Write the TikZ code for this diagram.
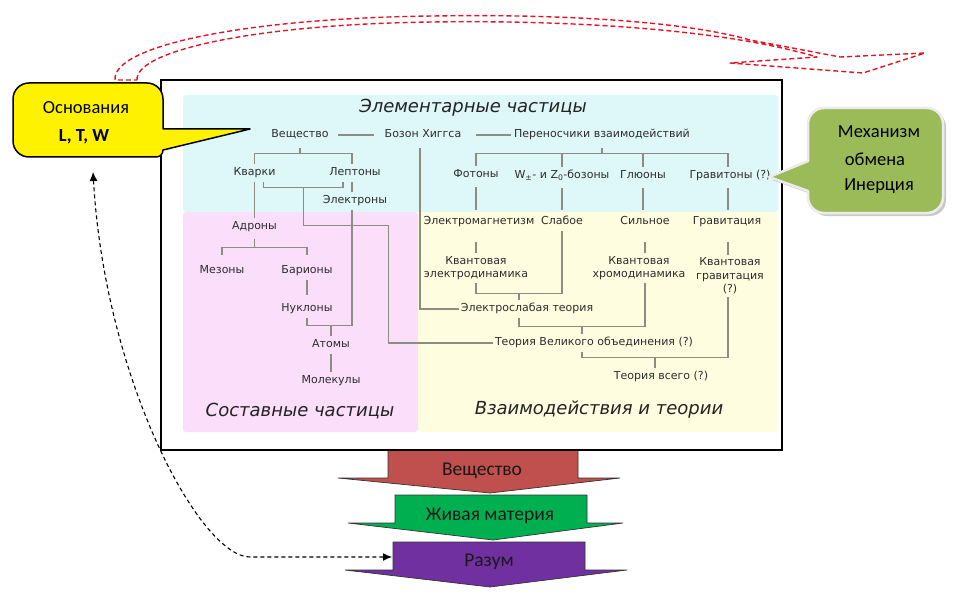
\documentclass[tikz,border=0pt]{standalone}
\usepackage{fontspec}
\setmainfont{DejaVu Sans}
\newfontfamily\carl{Carlito}
\usetikzlibrary{shadows,arrows.meta,calc}
\definecolor{cyanbg}{RGB}{222,248,250}
\definecolor{pinkbg}{RGB}{250,222,250}
\definecolor{yelbg}{RGB}{255,253,224}
\definecolor{linec}{RGB}{140,140,130}
\definecolor{labc}{RGB}{45,45,45}
\definecolor{ttlc}{RGB}{35,35,35}
\definecolor{callg}{RGB}{155,187,89}
\definecolor{arrred}{RGB}{192,80,77}
\definecolor{arrgreen}{RGB}{0,176,80}
\definecolor{arrpurp}{RGB}{112,48,160}
\definecolor{dashred}{RGB}{228,20,40}
\begin{document}
\begin{tikzpicture}[x=1pt,y=-1pt,
  lbl/.style={font=\fontsize{11}{13}\selectfont, text=labc, inner xsep=1.5pt, inner ysep=3pt, text height=8.5pt, text depth=2.6pt},
  lbltwo/.style={font=\fontsize{11}{13.5}\selectfont, text=labc, inner xsep=1.5pt, inner ysep=3pt, align=center},
  ttl/.style={font=\fontsize{18}{20}\selectfont\itshape, text=ttlc},
  tl/.style={draw=linec, line width=1.1pt},
  ctext/.style={font=\carl\fontsize{18.5}{20}\selectfont, text=black},
  btext/.style={font=\carl\fontsize{19.5}{21}\selectfont, text=black!90},
  bigarrow/.style={draw=black!80, line width=0.7pt}
]
\useasboundingbox (0,0) rectangle (961,607);
\fill[white] (0,0) rectangle (961,607);

% red dashed curved arrow
\draw[dashred, line width=1.4pt, dash pattern=on 5pt off 3pt, line join=round]
  (137,80) .. controls (135,50) and (260,24) .. (433,22)
  .. controls (560,20) and (720,28) .. (817,57)
  -- (730,63) -- (863,73) -- (925,53) -- (840,57) -- (750,40)
  .. controls (680,20) and (550,14) .. (433,16)
  .. controls (250,18) and (112,45) .. (115,80) -- cycle;

% frame interior and regions
\fill[white] (161,80) rectangle (782,450);
\fill[cyanbg, rounded corners=3pt] (183,95) rectangle (778,212);
\fill[pinkbg, rounded corners=3pt] (183,212) rectangle (418,432);
\fill[yelbg, rounded corners=3pt] (418,212) rectangle (778,432);

% titles
\node[ttl] (t1) at (473,108) {Элементарные частицы};
\node[ttl] (t2) at (300,411) {Составные частицы};
\node[ttl] (t3) at (599,410) {Взаимодействия и теории};

% labels
\node[lbl] (vesh) at (300,135) {Вещество};
\node[lbl] (higgs) at (423,135) {Бозон Хиггса};
\node[lbl] (pereno) at (602,135) {Переносчики взаимодействий};
\node[lbl] (kvarki) at (254.5,173) {Кварки};
\node[lbl] (lepton) at (355,173) {Лептоны};
\node[lbl] (elektr) at (355,201) {Электроны};
\node[lbl] (foton) at (476,175) {Фотоны};
\node[lbl] (wz) at (562,176) {W\textsubscript{±}- и Z\textsubscript{0}-бозоны};
\node[lbl] (glyuon) at (643,176) {Глюоны};
\node[lbl] (graviton) at (730,176) {Гравитоны (?)};
\node[lbl] (adron) at (254.5,227) {Адроны};
\node[lbl] (mezon) at (222,271) {Мезоны};
\node[lbl] (barion) at (307,271) {Барионы};
\node[lbl] (nuklon) at (307,309) {Нуклоны};
\node[lbl] (atom) at (331,345) {Атомы};
\node[lbl] (molek) at (331,381) {Молекулы};
\node[lbl] (emag) at (479,222) {Электромагнетизм};
\node[lbl] (slab) at (562,222) {Слабое};
\node[lbl] (silnoe) at (645,222) {Сильное};
\node[lbl] (gravitac) at (727,222) {Гравитация};
\node[lbltwo] (ked) at (476,268) {Квантовая\\электродинамика};
\node[lbltwo] (kxd) at (639,268) {Квантовая\\хромодинамика};
\node[lbltwo] (kgrav) at (730,276) {Квантовая\\гравитация\\(?)};
\node[lbl] (ew) at (527,309) {Электрослабая теория};
\node[lbl] (gut) at (594,343) {Теория Великого объединения (?)};
\node[lbl] (toe) at (661,377) {Теория всего (?)};

% tree connectors
\draw[tl, shorten <=8pt, shorten >=9pt] (vesh.east) -- (higgs.west);
\draw[tl, shorten <=13pt, shorten >=1pt] (higgs.east) -- (pereno.west);
\draw[tl] (kvarki.north) -- ++(0,-11) coordinate (vb) -| ([xshift=-3pt]lepton.north);
\draw[tl] ([yshift=-4pt]vesh.south) -- (vesh.south |- vb);
\draw[tl] (kvarki.south) -- (adron.north);
\draw[tl] ([xshift=9pt]kvarki.south) -- ++(0,6) coordinate (kb) -| ([xshift=-12pt]lepton.south);
\draw[tl] ([xshift=40pt]kb) -- ++(0,38) -- ++(85,0) |- (gut.west);
\draw[tl] ([xshift=-3pt]lepton.south) -- ([xshift=-3pt]lepton.south |- elektr.north);
\draw[tl] (nuklon.south) -- ++(0,8) coordinate (nb) -| ([xshift=-3pt]elektr.south);
\draw[tl] (atom.north) -- (atom.north |- nb);
\draw[tl] (atom.south) -- (molek.north);
\draw[tl] ([yshift=7pt]mezon.north) -- ++(0,-8) coordinate (ab) -| ([yshift=7pt]barion.north);
\draw[tl] ([yshift=-3pt]adron.south) -- (adron.south |- ab);
\draw[tl, shorten >=5pt] (barion.south) -- (barion.south |- nuklon.north);
\draw[tl] ([xshift=-3pt,yshift=-4pt]higgs.south) |- (ew.west);
\draw[tl] (foton.north) -- ++(0,-13) coordinate (pb) -| ([xshift=-2pt]graviton.north);
\draw[tl] (wz.north |- pb) -- (wz.north);
\draw[tl] (glyuon.north |- pb) -- (glyuon.north);
\draw[tl] ([yshift=-4pt]pereno.south) -- (pereno.south |- pb);
\draw[tl, shorten <=3pt, shorten >=3pt] (foton.south) -- (foton.south |- emag.north);
\draw[tl, shorten <=3pt, shorten >=3pt] (wz.south) -- (wz.south |- slab.north);
\draw[tl, shorten <=3pt, shorten >=3pt] (glyuon.south) -- (glyuon.south |- silnoe.north);
\draw[tl, shorten <=3pt, shorten >=3pt] ([xshift=-2pt]graviton.south) -- ([xshift=-2pt]graviton.south |- gravitac.north);
\draw[tl, shorten <=11pt] (foton.south |- emag.south) -- (foton.south |- ked.north);
\draw[tl, shorten <=11pt] (silnoe.south) -- (silnoe.south |- kxd.north);
\draw[tl, shorten <=11pt] ([xshift=1pt]gravitac.south) -- ([xshift=1pt]gravitac.south |- kgrav.north);
\draw[tl] (foton.south |- ked.south) -- ++(0,10) coordinate (eb) -| (slab.south);
\draw[tl] ([xshift=-8pt]ew.north |- eb) -- ([xshift=-8pt]ew.north);
\draw[tl] ([xshift=-8pt]ew.south) -- ++(0,9) coordinate (gb) -| (silnoe.south |- kxd.south);
\draw[tl] ([xshift=-12pt]gut.north |- gb) -- ([xshift=-12pt]gut.north);
\draw[tl] ([xshift=-12pt]gut.south) -- ++(0,6) coordinate (tb) -| ([xshift=-2pt]kgrav.south);
\draw[tl] ([xshift=-6pt]toe.north |- tb) -- ([xshift=-6pt]toe.north);

% bottom block arrows
\draw[bigarrow, fill=arrred] (388,450) -- (578,450) -- (578,478) -- (620,478) -- (490,493) -- (338,478) -- (388,478) -- cycle;
\draw[bigarrow, fill=arrgreen] (395,495) -- (587,495) -- (587,523) -- (623,523) -- (493,540) -- (348,523) -- (395,523) -- cycle;
\draw[bigarrow, fill=arrpurp] (393,542) -- (585,542) -- (585,570) -- (627,570) -- (490,587) -- (345,570) -- (393,570) -- cycle;
\node[btext] (bvesh) at (482,471) {Вещество};
\node[btext] (bzhiv) at (490,516) {Живая материя};
\node[btext] (braz) at (489,562) {Разум};
\coordinate (razleft) at (392,557);

% frame border
\draw[line width=1.8pt] (161,80) rectangle (782,450);

% yellow callout
\draw[line width=1.5pt, fill=yellow, line join=round]
  (29,83) -- (147,83) .. controls (155.8,83) and (163,90.2) .. (163,99)
  -- (163,129) -- (250,129) -- (163,150)
  .. controls (163,154) and (160,157) .. (156,157)
  -- (29,157) .. controls (20.2,157) and (13,149.8) .. (13,141)
  -- (13,99) .. controls (13,90.2) and (20.2,83) .. (29,83) -- cycle;
\node[ctext] (osn) at (86,108) {Основания};
\node[ctext, font=\carl\bfseries\fontsize{18.5}{20}\selectfont] (ltw) at (84,137) {L, T, W};
\coordinate (ycb) at (93,172);

% green callout
\draw[draw=white!85!gray, line width=2.5pt, fill=callg, line join=round,
      drop shadow={shadow xshift=3pt, shadow yshift=-3pt, fill=black!35, opacity=0.6}]
  (824,108) -- (927,108) .. controls (935.8,108) and (943,115.2) .. (943,124)
  -- (943,197) .. controls (943,205.8) and (935.8,213) .. (927,213)
  -- (824,213) .. controls (815.2,213) and (808,205.8) .. (808,197)
  -- (808,191) -- (769,177) -- (808,161)
  -- (808,124) .. controls (808,115.2) and (815.2,108) .. (824,108) -- cycle;
\node[ctext] (mex) at (879,132) {Механизм};
\node[ctext] (obm) at (875,159) {обмена};
\node[ctext] (iner) at (879,186) {Инерция};

% black dashed double arrow
\draw[line width=1.1pt, dash pattern=on 4pt off 3pt,
      {Latex[length=9pt,width=8pt]}-{Latex[length=9pt,width=8pt]}]
  (ycb) .. controls (105,380) and (200,557) .. (250,557) -- (razleft);
\end{tikzpicture}
\end{document}
